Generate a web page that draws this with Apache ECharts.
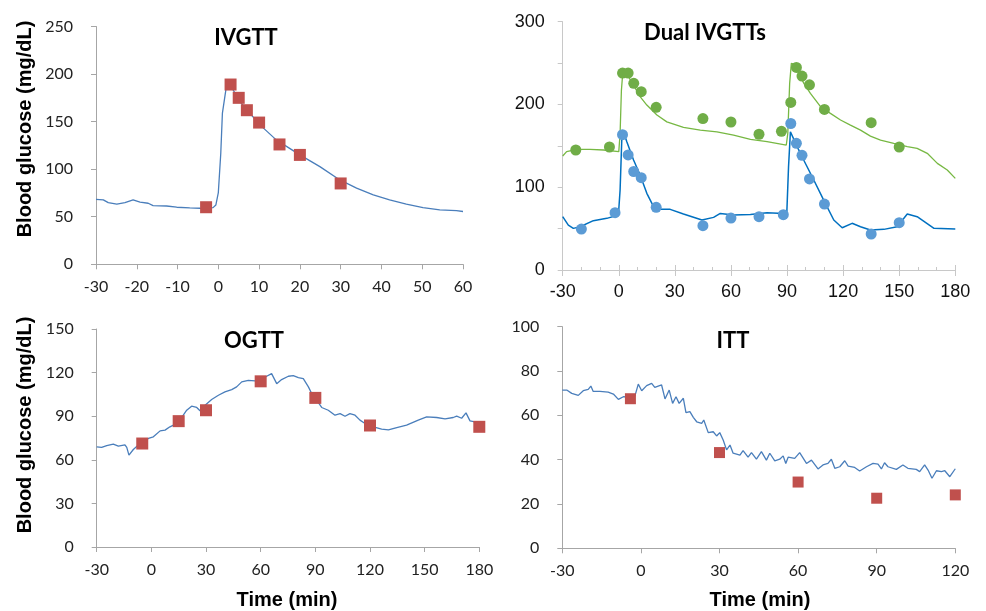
<!DOCTYPE html>
<html>
<head>
<meta charset="utf-8">
<script src="https://cdn.jsdelivr.net/npm/echarts@6/dist/echarts.min.js"></script>
<style>
html,body{margin:0;padding:0;background:#fff;}
#chart{width:986px;height:611px;}
</style>
</head>
<body>
<div id="chart"></div>
<script>
// ---------- DATA ----------
// IVGTT
var ivgttLineT = [-30,-28.2,-27,-24.9,-22.9,-20.9,-19.2,-17.2,-16,-12.7,-10.2,-7,-4.5,-1.3,-0.6,0,0.6,1.0,1.9,2.4,3.6,5.3,7.7,10.2,14.2,20,24.9,29.8,33.9,38,42,46.1,50.2,54.3,58.4,60];
var ivgttLineG = [68.3,67.7,64.8,63.2,64.8,67.7,65.3,64.2,61.7,61.3,60,59.3,58.9,59.6,62.4,75.4,116.8,159,185,190.5,183.5,171,159,146.6,130.8,115,102.7,88.7,80,73,67.7,63.2,59.6,57.2,56.4,55.5];
var ivgttSampleT = [-3,3,5,7,10,15,20,30];
var ivgttSampleG = [60,189,175,162,149,126,115,85];

// Dual IVGTTs
var dualGreenLineT = [-30,-27.9,-22.5,-15.4,-8.2,0,0.7,1.4,2.1,2.9,5.2,7.9,11.4,15,20.4,25.7,34.6,43.6,52.5,61.4,70.4,79.3,89.6,90.4,91.4,92.3,93.6,96.3,99,102.5,107.9,113.2,118.6,123.9,129.3,134.6,140,147.1,154.3,159.6,165,170.4,175.7,180];
var dualGreenLineG = [137.7,143,145.7,145.7,145,143,165,217,237.5,239.5,233.5,223.4,209.4,199.3,187.2,179,172.3,169,167,163,157.8,155,151,165,225.5,249.6,248.8,237.5,225.5,213.4,197.3,189.2,181.2,175,169,161.8,157,153,149,147,141,128.8,120.8,110.7];
var dualBlueLineT = [-30,-27,-24.3,-20.7,-13.6,-6.4,-0.2,0.7,1.6,2.5,4.3,7.9,11.4,15,18.6,22.1,27.5,34.6,44.5,50.7,54.3,61.4,70.4,79.3,88.2,89.9,90.8,91.8,92.7,95.4,98.9,104.3,109.6,115,119.5,124.8,129.3,134.6,141.8,148.9,154.3,159.6,168.6,180];
var dualBlueLineG = [64.4,54.3,50.3,52.3,59.6,62.4,66.4,96.6,157,167,155,132.9,114.7,92.6,76.5,73.3,73.3,67.6,60.4,63.6,68.4,66.4,67.2,69.2,68.4,70.5,124.8,167,165,149,132.9,108.7,84.5,60.4,51.1,56.4,52.3,48.3,49.1,52.3,67.6,64.4,50.3,49.5];
var dualGreenSampleT = [-23,-5,2,5,8,12,20,45,60,75,87,92,95,98,102,110,135,150];
var dualGreenSampleG = [145,148.6,238,238,225.5,215.4,196.5,183,178.8,164,167.5,202.5,244.8,234.3,223.8,194,178,148.6];
var dualBlueSampleT = [-20,-2,2,5,8,12,20,45,60,75,88,92,95,98,102,110,135,150];
var dualBlueSampleG = [49.5,69.2,163.5,139,119,111.5,75.7,53.5,62.8,64.4,66.8,177,153,138.5,110,79.7,43.5,57.2];

// OGTT
var ogttLineT = [-30,-27.3,-24.5,-20.9,-18.1,-14.5,-13.5,-12.3,-9.9,-6.2,-1.6,1.1,4.8,7.5,10.2,13.9,16.6,19.4,22.1,24.9,26.7,29.5,33.1,36.8,40.4,44.1,46.8,49.6,53.2,56.9,60.5,63.3,66,68.8,71.5,75.2,77.9,80.7,83.4,86.2,88,90.7,93.5,97.1,100.8,103.6,106.3,109,111.8,114.5,117.3,121.9,126.4,130.1,134.7,140.1,146.5,151.1,156.6,161.2,165.7,167.6,170.3,172.7,174.9,177.6,180];
var ogttLineG = [68.9,68.5,69.8,70.8,69.4,70.3,68.5,63.2,67.1,71.2,74.7,75.8,79.9,80.4,82.7,85,89.1,94.1,96.9,96,93.7,97.6,101.5,104.4,106.7,108.3,110.2,113.6,114.7,114.3,115.9,117.5,119.3,112.4,115.2,117.5,117.9,116.6,115.9,110.2,105.6,101,96,94.1,90.7,91.8,90,91.8,90.7,87.3,85,82.7,81.1,80.6,82.2,83.8,87.3,89.5,89.1,88.2,89.1,90,88.6,92.3,86.8,86.1,85.4];
var ogttSampleT = [-5,15,30,60,90,120,180];
var ogttSampleG = [71.2,86.6,94.1,114,102.6,83.6,82.7];

// ITT
var ittLineT = [-30,-28.3,-26.4,-23.9,-22,-20.1,-19.1,-18.2,-15.6,-12.5,-10.5,-8.6,-6.7,-4.2,-2.3,-1,0.3,2.2,4.1,5.3,7.9,9.2,10.8,12.1,13.4,14.6,16.2,17.2,18.7,20,21.3,23.2,24,25.7,27.6,28.9,30.1,31.4,32.7,34,35.2,37.8,39,40.9,42.2,44.1,46,47.9,49.2,51.1,53,54.3,55.3,56.2,58.7,60.6,63.2,65.1,67.6,69.5,71.4,72.7,74,75.9,77.8,79.1,81.6,83.5,86.1,88.6,90.5,91.8,93,94.3,97.5,100,101.9,105.1,106.4,108.3,109.6,111.1,112.8,114.7,116,117.9,120];
var ittLineG = [71.4,71.4,69.9,69,71.1,71.7,73.2,70.8,70.8,70.5,69.6,67.2,68.4,68.1,68.7,74.1,71.1,73.4,74.4,72.6,73.7,67.4,71.4,65.4,68.4,65.4,67.7,61.2,61.7,59.1,57.1,56.4,57.9,52.2,52.6,50.7,52.2,48.9,44.4,46.6,42.9,42.1,44.1,41.1,43.2,40.2,43.6,39.8,42.9,39.5,40.2,41.7,38.3,41.1,40.6,43.2,38.3,39.8,35.8,37.6,38.3,40.2,36.1,36.8,39.5,37.1,36.5,34.9,36.8,38.3,38,35.8,38.6,36.8,35.6,37.6,36.1,35.6,34.6,37.6,35.3,31.6,35,34.6,35,32.3,35.9];
var ittSampleT = [-4,30,60,90,120];
var ittSampleG = [67.5,43.2,29.9,22.6,24.1];

// Text
var panelTitles = ['IVGTT', 'Dual IVGTTs', 'OGTT', 'ITT'];
var yTitle = 'Blood glucose (mg/dL)';
var xTitle = 'Time (min)';

// ---------- BUILD ----------
function pairs(t, g) { return t.map(function (v, i) { return [v, g[i]]; }); }

var LINE_BLUE = '#4a7ebb';
var RED = '#c0504d';
var AX = '#a6a6a6';
var CAL = 'Lato, "Open Sans", sans-serif';
var ARI = '"Liberation Sans", Arial, sans-serif';

function calX(idx, min, max, interval) {
  return {
    gridIndex: idx, type: 'value', min: min, max: max, interval: interval,
    axisLine: { show: true, onZero: false, lineStyle: { color: AX, width: 1 } },
    axisTick: { show: true, length: 5, lineStyle: { color: AX } },
    axisLabel: { fontFamily: CAL, fontSize: 16, color: '#222', margin: 15 },
    splitLine: { show: false }
  };
}
function calY(idx, min, max, interval) {
  return {
    gridIndex: idx, type: 'value', min: min, max: max, interval: interval,
    axisLine: { show: true, onZero: false, lineStyle: { color: AX, width: 1 } },
    axisTick: { show: true, length: 5, lineStyle: { color: AX } },
    axisLabel: { fontFamily: CAL, fontSize: 16, color: '#222', margin: 23 },
    splitLine: { show: false }
  };
}

var option = {
  animation: false,
  backgroundColor: '#fff',
  grid: [
    { left: 96, top: 26.5, width: 367, height: 237.8 },
    { left: 562.7, top: 21.7, width: 392.6, height: 248.3 },
    { left: 96.7, top: 329, width: 382.6, height: 218 },
    { left: 562.3, top: 326.7, width: 393, height: 221.6 }
  ],
  xAxis: [
    calX(0, -30, 60, 10),
    {
      gridIndex: 1, type: 'value', min: -30, max: 180, interval: 30, position: 'bottom',
      axisLine: { show: true, onZero: false, lineStyle: { color: '#c8c8c8', width: 1 } },
      axisTick: { show: true, length: 6, lineStyle: { color: '#c8c8c8' } },
      axisLabel: { fontFamily: ARI, fontSize: 18, color: '#111', margin: 13 },
      splitLine: { show: false }
    },
    {
      gridIndex: 1, type: 'value', min: -30, max: 180, interval: 30, position: 'bottom',
      axisLine: { show: false, onZero: false },
      axisTick: { show: true, inside: true, length: 5, lineStyle: { color: '#c8c8c8' } },
      minorTick: { show: true, splitNumber: 3, length: 3, lineStyle: { color: '#c8c8c8' } },
      axisLabel: { show: false },
      splitLine: { show: false }
    },
    calX(2, -30, 180, 30),
    calX(3, -30, 120, 30)
  ],
  yAxis: [
    calY(0, 0, 250, 50),
    {
      gridIndex: 1, type: 'value', min: 0, max: 300, interval: 50,
      axisLine: { show: true, onZero: false, lineStyle: { color: '#c8c8c8', width: 1 } },
      axisTick: { show: true, length: 5, lineStyle: { color: '#c8c8c8' } },
      axisLabel: {
        fontFamily: ARI, fontSize: 18, color: '#111', margin: 18,
        formatter: function (v) { return v % 100 === 0 ? String(v) : ''; }
      },
      splitLine: { show: false }
    },
    calY(2, 0, 150, 30),
    calY(3, 0, 100, 20)
  ],
  series: [
    { type: 'line', xAxisIndex: 0, yAxisIndex: 0, data: pairs(ivgttLineT, ivgttLineG), showSymbol: false, smooth: false,
      lineStyle: { color: LINE_BLUE, width: 1.3 }, z: 2 },
    { type: 'scatter', xAxisIndex: 0, yAxisIndex: 0, data: pairs(ivgttSampleT, ivgttSampleG), symbol: 'rect', symbolSize: 12,
      itemStyle: { color: RED, opacity: 1 }, z: 3 },

    { type: 'line', xAxisIndex: 1, yAxisIndex: 1, data: pairs(dualGreenLineT, dualGreenLineG), showSymbol: false,
      lineStyle: { color: '#77b843', width: 1.3 }, z: 2 },
    { type: 'line', xAxisIndex: 1, yAxisIndex: 1, data: pairs(dualBlueLineT, dualBlueLineG), showSymbol: false,
      lineStyle: { color: '#0070c0', width: 1.5 }, z: 2 },
    { type: 'scatter', xAxisIndex: 1, yAxisIndex: 1, data: pairs(dualGreenSampleT, dualGreenSampleG), symbol: 'circle', symbolSize: 11,
      itemStyle: { color: '#70ad47', opacity: 1 }, z: 3 },
    { type: 'scatter', xAxisIndex: 1, yAxisIndex: 1, data: pairs(dualBlueSampleT, dualBlueSampleG), symbol: 'circle', symbolSize: 11,
      itemStyle: { color: '#5b9bd5', opacity: 1 }, z: 3 },

    { type: 'line', xAxisIndex: 3, yAxisIndex: 2, data: pairs(ogttLineT, ogttLineG), showSymbol: false,
      lineStyle: { color: LINE_BLUE, width: 1.3 }, z: 2 },
    { type: 'scatter', xAxisIndex: 3, yAxisIndex: 2, data: pairs(ogttSampleT, ogttSampleG), symbol: 'rect', symbolSize: 12,
      itemStyle: { color: RED, opacity: 1 }, z: 3 },

    { type: 'line', xAxisIndex: 4, yAxisIndex: 3, data: pairs(ittLineT, ittLineG), showSymbol: false,
      lineStyle: { color: LINE_BLUE, width: 1.3 }, z: 2 },
    { type: 'scatter', xAxisIndex: 4, yAxisIndex: 3, data: pairs(ittSampleT, ittSampleG), symbol: 'rect', symbolSize: 11,
      itemStyle: { color: RED, opacity: 1 }, z: 3 }
  ],
  graphic: [
    { type: 'text', x: 246, y: 38, style: { text: panelTitles[0], font: 'bold 22px Lato, "Open Sans", sans-serif', fill: '#000', align: 'center', verticalAlign: 'middle', textAlign: 'center', textVerticalAlign: 'middle' } },
    { type: 'text', x: 705, y: 33, style: { text: panelTitles[1], font: 'bold 22px Lato, "Open Sans", sans-serif', fill: '#000', align: 'center', verticalAlign: 'middle', textAlign: 'center', textVerticalAlign: 'middle' } },
    { type: 'text', x: 254, y: 341, style: { text: panelTitles[2], font: 'bold 22px Lato, "Open Sans", sans-serif', fill: '#000', align: 'center', verticalAlign: 'middle', textAlign: 'center', textVerticalAlign: 'middle' } },
    { type: 'text', x: 733, y: 341, style: { text: panelTitles[3], font: 'bold 22px Lato, "Open Sans", sans-serif', fill: '#000', align: 'center', verticalAlign: 'middle', textAlign: 'center', textVerticalAlign: 'middle' } },
    { type: 'text', x: 25, y: 129, rotation: Math.PI / 2, style: { text: yTitle, font: 'bold 20px "Liberation Sans", Arial, sans-serif', fill: '#000', align: 'center', verticalAlign: 'middle', textAlign: 'center', textVerticalAlign: 'middle' } },
    { type: 'text', x: 25, y: 425, rotation: Math.PI / 2, style: { text: yTitle, font: 'bold 20px "Liberation Sans", Arial, sans-serif', fill: '#000', align: 'center', verticalAlign: 'middle', textAlign: 'center', textVerticalAlign: 'middle' } },
    { type: 'text', x: 287, y: 600, style: { text: xTitle, font: 'bold 20px "Liberation Sans", Arial, sans-serif', fill: '#000', align: 'center', verticalAlign: 'middle', textAlign: 'center', textVerticalAlign: 'middle' } },
    { type: 'text', x: 760, y: 600, style: { text: xTitle, font: 'bold 20px "Liberation Sans", Arial, sans-serif', fill: '#000', align: 'center', verticalAlign: 'middle', textAlign: 'center', textVerticalAlign: 'middle' } }
  ]
};

var chart = echarts.init(document.getElementById('chart'), null, { renderer: 'canvas' });
chart.setOption(option);
</script>
</body>
</html>
